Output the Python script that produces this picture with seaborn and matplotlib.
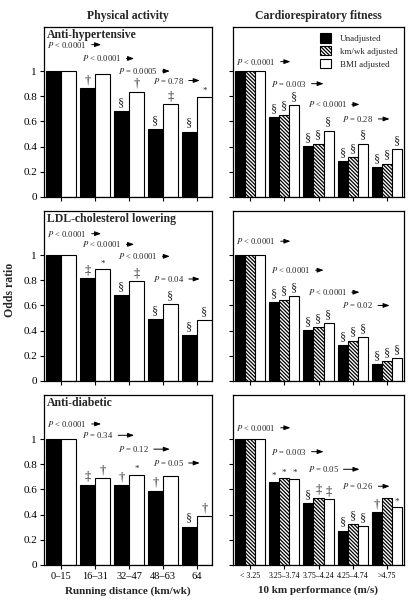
import matplotlib
matplotlib.use('Agg')
import matplotlib.pyplot as plt
from matplotlib.patches import Patch
import numpy as np
import pandas as pd
import seaborn as sns

# categories
distance_cats = ['0–15', '16–31', '32–47', '48–63', '64']
speed_cats = ['< 3.25', '3.25–3.74', '3.75–4.24', '4.25–4.74', '>4.75']
dist_levels = ['Unadjusted', 'BMI adjusted']
fit_levels = ['Unadjusted', 'km/wk adjusted', 'BMI adjusted']

# odds ratios, physical activity (running distance)
htn_dist_unadj = [1.0, 0.865, 0.68, 0.54, 0.52]
htn_dist_bmi = [1.0, 0.98, 0.835, 0.735, 0.795]
ldl_dist_unadj = [1.0, 0.817, 0.68, 0.49, 0.362]
ldl_dist_bmi = [1.0, 0.886, 0.794, 0.608, 0.481]
dm_dist_unadj = [1.0, 0.637, 0.634, 0.589, 0.305]
dm_dist_bmi = [1.0, 0.687, 0.714, 0.706, 0.387]

# odds ratios, cardiorespiratory fitness (10 km performance)
htn_fit_unadj = [1.0, 0.634, 0.406, 0.286, 0.239]
htn_fit_km = [1.0, 0.655, 0.424, 0.318, 0.265]
htn_fit_bmi = [1.0, 0.729, 0.528, 0.424, 0.379]
ldl_fit_unadj = [1.0, 0.629, 0.403, 0.284, 0.137]
ldl_fit_km = [1.0, 0.647, 0.429, 0.321, 0.158]
ldl_fit_bmi = [1.0, 0.676, 0.461, 0.347, 0.179]
dm_fit_unadj = [1.0, 0.660, 0.492, 0.273, 0.420]
dm_fit_km = [1.0, 0.687, 0.535, 0.326, 0.535]
dm_fit_bmi = [1.0, 0.682, 0.521, 0.307, 0.457]

# significance symbols above each bar (one list per series)
htn_dist_marks = [['', '†', '§', '§', '§'], ['', '', '†', '‡', '*']]
ldl_dist_marks = [['', '‡', '§', '§', '§'], ['', '*', '‡', '§', '§']]
dm_dist_marks = [['', '‡', '†', '†', '§'], ['', '†', '*', '', '†']]
htn_fit_marks = [['', '§', '§', '§', '§']] * 3
ldl_fit_marks = [['', '§', '§', '§', '§']] * 3
dm_fit_marks = [['', '*', '§', '§', '†'], ['', '*', '‡', '§', ''], ['', '*', '‡', '§', '*']]

# trend P values between adjacent categories
htn_dist_p = ['< 0.0001', '< 0.0001', '= 0.0005', '= 0.78']
ldl_dist_p = ['< 0.0001', '< 0.0001', '< 0.0001', '= 0.04']
dm_dist_p = ['< 0.0001', '= 0.34', '= 0.12', '= 0.05']
htn_fit_p = ['< 0.0001', '= 0.003', '< 0.0001', '= 0.28']
ldl_fit_p = ['< 0.0001', '< 0.0001', '< 0.0001', '= 0.02']
dm_fit_p = ['< 0.0001', '= 0.003', '= 0.05', '= 0.26']

sns.set_theme(style='ticks')
plt.rcParams['font.family'] = ['Liberation Serif', 'DejaVu Serif']
plt.rcParams['mathtext.fontset'] = 'stix'
plt.rcParams['hatch.linewidth'] = 0.9
plt.rcParams['axes.linewidth'] = 0.9

W, H = 413, 602
fig = plt.figure(figsize=(W / 100, H / 100), dpi=100)


def px_axes(left, top, width, height):
    return fig.add_axes([left / W, 1 - (top + height) / H, width / W, height / H])


colors = {'Unadjusted': 'black', 'km/wk adjusted': 'white', 'BMI adjusted': 'white'}
hatch = '\\' * 9
p_x_start = [-0.4, 0.62, 1.68, 2.7]
p_x_end = [1.18, 2.15, 3.2, 4.08]


def draw_panel(ax, cats, levels, series, marks, pvals, p_y, left_col, bottom_row, title=None):
    df = pd.DataFrame({
        'cat': np.tile(cats, len(series)),
        'odds': np.concatenate(series),
        'adj': np.repeat(levels, len(cats)),
    })
    sns.barplot(data=df, x='cat', y='odds', hue='adj', order=cats, hue_order=levels,
                palette=colors, width=0.88, saturation=1, edgecolor='black',
                linewidth=0.8, errorbar=None, legend=False, ax=ax)
    for lvl, cont, mk in zip(levels, ax.containers, marks):
        for bar, m in zip(cont, mk):
            if lvl == 'km/wk adjusted':
                bar.set_hatch(hatch)
            if m:
                ax.text(bar.get_x() + bar.get_width() / 2, bar.get_height() + 0.015, m,
                        ha='center', va='bottom', fontsize=6.5 if m == '*' else 9)
    for k, (p, y) in enumerate(zip(pvals, p_y)):
        ax.annotate('$P$ ' + p, xy=(p_x_end[k], y), xytext=(p_x_start[k], y),
                    ha='left', va='center', fontsize=6.2,
                    arrowprops=dict(arrowstyle='-|>,head_length=0.6,head_width=0.22',
                                    color='black', lw=0.7, shrinkA=1, shrinkB=0))
    ax.set_ylim(0, 1.35)
    ax.set_xlim(-0.5, 4.44 if len(levels) == 2 else 4.5)
    ax.set_yticks([0, 0.2, 0.4, 0.6, 0.8, 1.0])
    ax.set_yticklabels(['0', '0.2', '0.4', '0.6', '0.8', '1'] if left_col else [])
    if not bottom_row:
        ax.set_xticklabels([])
    ax.set_xlabel('')
    ax.set_ylabel('')
    ax.tick_params(direction='out', length=3, width=0.8, labelsize=8, pad=2, colors='black')
    ax.tick_params(axis='x', labelsize=7.5 if left_col else 5.7)
    for s in ax.spines.values():
        s.set_visible(True)
        s.set_color('black')
    if title:
        ax.text(0.018, 0.955, title, transform=ax.transAxes, ha='left', va='center',
                fontsize=8.5, fontweight='bold')


tops = [27, 211, 395]
ph = 170
rows = [
    ('Anti-hypertensive', [htn_dist_unadj, htn_dist_bmi], htn_dist_marks, htn_dist_p, [1.21, 1.10, 1.00, 0.925],
     [htn_fit_unadj, htn_fit_km, htn_fit_bmi], htn_fit_marks, htn_fit_p, [1.075, 0.90, 0.735, 0.62]),
    ('LDL-cholesterol lowering', [ldl_dist_unadj, ldl_dist_bmi], ldl_dist_marks, ldl_dist_p, [1.17, 1.085, 0.99, 0.81],
     [ldl_fit_unadj, ldl_fit_km, ldl_fit_bmi], ldl_fit_marks, ldl_fit_p, [1.11, 0.88, 0.705, 0.60]),
    ('Anti-diabetic', [dm_dist_unadj, dm_dist_bmi], dm_dist_marks, dm_dist_p, [1.12, 1.03, 0.92, 0.81],
     [dm_fit_unadj, dm_fit_km, dm_fit_bmi], dm_fit_marks, dm_fit_p, [1.09, 0.90, 0.76, 0.625]),
]

for r, (title, ds, dm, dp, dy, fs, fm, fp, fy) in enumerate(rows):
    axl = px_axes(44, tops[r], 168, ph)
    draw_panel(axl, distance_cats, dist_levels, ds, dm, dp, dy, True, r == 2, title)
    axr = px_axes(233, tops[r], 171, ph)
    draw_panel(axr, speed_cats, fit_levels, fs, fm, fp, fy, False, r == 2)
    if r == 0:
        handles = [Patch(facecolor=colors[l], edgecolor='black', linewidth=0.8,
                         hatch=hatch if l == 'km/wk adjusted' else None) for l in fit_levels]
        axr.legend(handles, fit_levels, loc='upper right', bbox_to_anchor=(1.0, 1.0),
                   frameon=False, fontsize=6.5, handlelength=1.2, handleheight=1.2,
                   handletextpad=1.0, labelspacing=0.35, borderaxespad=0.3)

fig.text(128 / W, 1 - 16 / H, 'Physical activity', ha='center', va='center', fontsize=8.5, fontweight='bold')
fig.text(318 / W, 1 - 16 / H, 'Cardiorespiratory fitness', ha='center', va='center', fontsize=8.5, fontweight='bold')
fig.text(10 / W, 1 - 290 / H, 'Odds ratio', rotation=90, ha='center', va='center', fontsize=8.5, fontweight='bold')
fig.text(128 / W, 1 - 591 / H, 'Running distance (km/wk)', ha='center', va='center', fontsize=8, fontweight='bold')
fig.text(318 / W, 1 - 590 / H, '10 km performance (m/s)', ha='center', va='center', fontsize=8, fontweight='bold')

fig.savefig('out.png', dpi=100)
